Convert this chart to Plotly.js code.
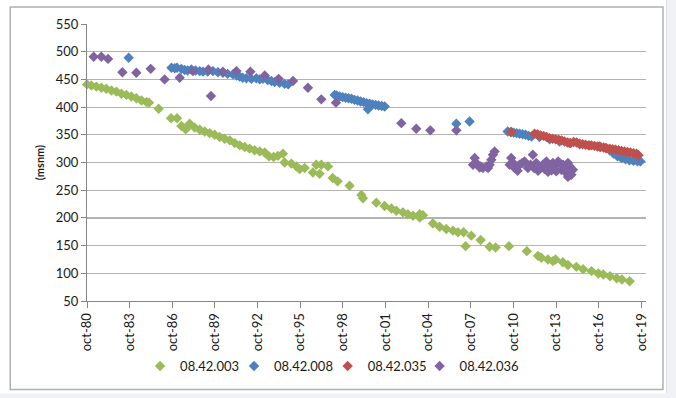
<!DOCTYPE html>
<html>
<head>
<meta charset="utf-8">
<script src="https://cdn.plot.ly/plotly-3.0.1.min.js"></script>
<style>
  html, body { margin: 0; padding: 0; background: #ffffff; }
  #chart { width: 676px; height: 398px; }
</style>
</head>
<body>
<div id="chart"></div>
<script>
// ---- data (x = decimal year, y = msnm) ----
const s003_x = [1980.75,1981.06,1981.41,1981.76,1982.11,1982.47,1982.82,1983.17,1983.52,1983.87,1984.22,1984.58,1984.93,1985.11,1985.79,1986.66,1987.08,1987.39,1987.69,1987.97,1988.32,1988.68,1989.03,1989.38,1989.73,1990.08,1990.43,1990.79,1991.14,1991.49,1991.84,1992.19,1992.54,1992.90,1993.25,1993.55,1993.88,1994.18,1994.53,1994.65,1995.12,1995.48,1995.71,1996.06,1996.64,1996.88,1997.11,1997.23,1997.70,1998.03,1998.38,1999.22,2000.05,2000.16,2001.10,2001.68,2002.16,2002.51,2002.97,2003.32,2003.68,2004.15,2004.15,2004.38,2005.08,2005.55,2006.02,2006.49,2006.84,2007.24,2007.38,2007.78,2008.44,2009.07,2009.49,2010.43,2011.69,2012.47,2012.71,2013.17,2013.52,2013.71,2014.22,2014.58,2015.17,2015.65,2016.24,2016.72,2017.07,2017.54,2018.01,2018.38,2018.92];
const s003_y = [441,439,437,435,433,430,428,424,422,419,416,412,409,408,397,380,380,366,360,370,363,359,356,353,350,346,343,340,335,331,328,325,322,320,318,311,310,312,316,300,298,293,288,290,282,296,279.5,296,293,272,266,258,241.5,235.5,227.5,221.5,217,213,210,206.5,204,206.5,200.5,205,190,184,180,177,174,174,149,168,160,148,146.7,149,140,131.5,128,125,122,125,120,115,111.6,107.4,104,99.6,97.8,94.7,91,88.7,85.7];

const s008_x = [1983.68,1986.69,1986.92,1987.08,1987.39,1987.62,1987.83,1988.09,1988.39,1988.68,1988.91,1989.24,1989.61,1989.96,1990.31,1990.64,1991.02,1991.28,1991.49,1991.70,1991.96,1992.31,1992.66,1992.90,1993.13,1993.46,1993.72,1993.95,1994.30,1994.65,1994.90,
  1998.17,1998.31,1998.52,1998.73,1998.94,1999.15,1999.36,1999.57,1999.79,2000.00,2000.21,2000.42,2000.51,2000.63,2000.84,2001.05,2001.26,2001.48,2001.69,
  2006.73,2007.66,
  2010.34,2010.55,2010.76,2010.97,2011.18,2011.39,2011.60,2011.81,2012.02,2012.58,2013.29,2013.99,2014.69,2015.40,2016.10,2016.80,2017.23,2017.51,2017.79,2018.07,2018.35,2018.63,2018.91,2019.19,2019.47,2019.68];
const s008_y = [489,471,470,471,469,467,466,468,466,465,464,464,465,463,462,460,459,457,455,453,452,451,452,450,451,449,447,445,444,442,441,
  422,421,419,418,417,416,415,413,412,410,409,407,396,406,405,404,403,402,401,
  370,374,
  356,355,354,353,352,351,350,348,347,346,342,338,335,333,331,329,326,322,316,311,308,306,304,303,302,302];

const s035_x = [2010.59,2012.23,2012.44,2012.66,2012.87,2013.08,2013.29,2013.50,2013.71,2013.92,2014.13,2014.34,2014.55,2014.77,2014.98,2015.19,2015.40,2015.61,2015.82,2016.03,2016.24,2016.45,2016.66,2016.87,2017.08,2017.29,2017.51,2017.72,2017.93,2018.14,2018.35,2018.56,2018.77,2018.98,2019.19,2019.40,2019.54];
const s035_y = [355,352,351,349,348,346,344,343,342,341,340,338,336,335,337,336,334,333,332,331,331,330,329,328,327,326,325,324,323,322,321,320,319,318,317,316,313];

const s036_x = [1981.22,1981.76,1982.23,1983.24,1984.22,1985.23,1986.21,1987.27,1988.20,1989.29,1989.47,1990.31,1991.26,1992.24,1993.25,1994.23,1995.24,1996.29,1997.23,1998.26,2002.86,2003.91,2004.90,2006.73,
  2007.90,2008.02,2008.12,2008.25,2008.37,2008.44,2008.60,2008.84,2008.96,2009.07,2009.19,2009.30,2009.42,
  2010.48,2010.59,2010.69,2010.83,2011.00,2011.04,2011.18,2011.36,2011.53,2011.76,2011.95,2012.11,2012.20,2012.35,2012.48,2012.59,2012.82,2012.94,2013.06,2013.18,2013.29,2013.43,2013.52,2013.64,2013.76,2013.89,2013.99,2014.11,2014.24,2014.34,2014.46,2014.58,2014.58,2014.70,2014.82,2014.93];
const s036_y = [491,491,487,463,462,469,450,453,465,468,420,464,465,464,457,451,447,435,414,408,371,361,358,358,
  296,308,298,296,291,293,290,293,290,296,305,314,320,
  296,308,300,290,293,285,296,299,302,290,296,314,290,299,285,290,296,288,302,283,293,286,299,294,284,302,299,287,296,293,281,299,274,293,278,287];

const names = ['08.42.003','08.42.008','08.42.035','08.42.036'];
const colors = ['#9BBB59','#4F81BD','#C0504D','#8064A2'];
const tickVals = [1980.75,1983.75,1986.75,1989.75,1992.75,1995.75,1998.75,2001.75,2004.75,2007.75,2010.75,2013.75,2016.75,2019.75];
const tickText = ['oct-80','oct-83','oct-86','oct-89','oct-92','oct-95','oct-98','oct-01','oct-04','oct-07','oct-10','oct-13','oct-16','oct-19'];

const xs = [s003_x, s008_x, s035_x, s036_x];
const ys = [s003_y, s008_y, s035_y, s036_y];

const FONT = 'Lato, "Open Sans", sans-serif';
const legendIds = ['legend', 'legend2', 'legend3', 'legend4'];
const legendX = [0.095, 0.263, 0.4305, 0.595];

const traces = names.map((n, i) => ({
  type: 'scatter',
  mode: 'markers',
  name: n,
  legend: legendIds[i],
  x: xs[i],
  y: ys[i],
  marker: { symbol: 'diamond', size: 8, color: colors[i], line: { width: 0 } },
  cliponaxis: false
}));

const layout = {
  width: 676,
  height: 398,
  margin: { l: 87.3, r: 29.5, t: 24, b: 97.3 },
  paper_bgcolor: '#ffffff',
  plot_bgcolor: '#ffffff',
  font: { family: FONT, size: 13, color: '#1a1a1a' },
  showlegend: true,
  xaxis: {
    range: [1980.75, 2020.07],
    tickmode: 'array',
    tickvals: tickVals,
    ticktext: tickText,
    tickangle: -90,
    ticks: 'outside',
    ticklen: 6,
    tickcolor: '#868686',
    showline: true,
    linecolor: '#868686',
    linewidth: 1,
    showgrid: false,
    zeroline: false,
    tickfont: { family: FONT, size: 13, color: '#1a1a1a' }
  },
  yaxis: {
    range: [50, 550],
    tick0: 50,
    dtick: 50,
    ticks: 'outside',
    ticklen: 5,
    tickcolor: '#868686',
    showline: true,
    linecolor: '#868686',
    linewidth: 1,
    showgrid: true,
    gridcolor: '#b3b3b3',
    gridwidth: 1.2,
    zeroline: false,
    tickfont: { family: FONT, size: 13, color: '#1a1a1a' },
    title: { text: '<b>(msnm)</b>', font: { family: FONT, size: 11, color: '#1a1a1a' }, standoff: 8 }
  },
  shapes: [
    { type: 'rect', xref: 'paper', yref: 'paper', x0: -0.1373, x1: 1.0304, y0: -0.3191, y1: 1.0614,
      line: { color: '#b0b0b0', width: 1.5 }, fillcolor: 'rgba(0,0,0,0)', layer: 'below' },
    { type: 'rect', xref: 'paper', yref: 'paper', x0: 1.0367, x1: 1.06, y0: -0.36, y1: 1.09,
      line: { width: 0 }, fillcolor: '#f1f2f6', layer: 'below' },
    { type: 'line', xref: 'paper', yref: 'paper', x0: 1.0367, x1: 1.0367, y0: -0.3336, y1: 1.09,
      line: { color: '#dedfe3', width: 1 }, layer: 'below' },
    { type: 'rect', xref: 'paper', yref: 'paper', x0: -0.16, x1: 1.06, y0: -0.36, y1: -0.3336,
      line: { width: 0 }, fillcolor: '#f1f2f6', layer: 'below' }
  ]
};

legendIds.forEach((id, i) => {
  layout[id] = {
    orientation: 'h',
    x: legendX[i], xanchor: 'left',
    y: -0.235, yanchor: 'middle',
    font: { family: FONT, size: 13, color: '#1a1a1a' },
    bgcolor: 'rgba(0,0,0,0)'
  };
});

Plotly.newPlot('chart', traces, layout, { displayModeBar: false, staticPlot: true });
</script>
</body>
</html>
